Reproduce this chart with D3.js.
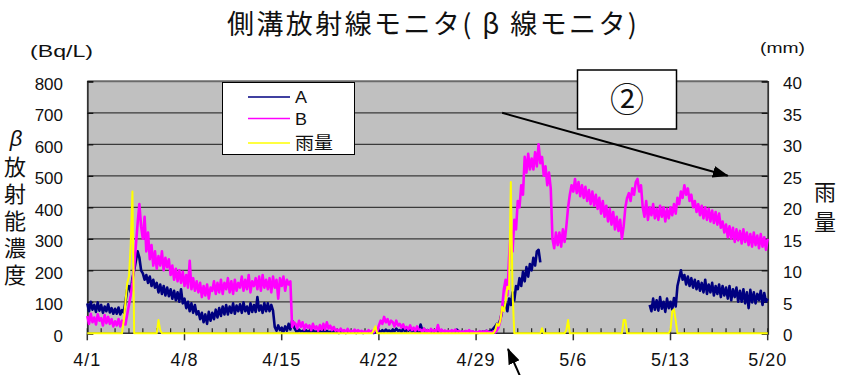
<!DOCTYPE html>
<html>
<head>
<meta charset="utf-8">
<script src="https://cdn.jsdelivr.net/npm/d3@7"></script>
<style>
  html, body { margin: 0; padding: 0; background: #fff; }
  svg { display: block; font-family: "Liberation Sans", Arial, "Noto Sans CJK JP", sans-serif; }
  .jp { font-family: "Noto Sans CJK JP", sans-serif; }
  .vertical { writing-mode: vertical-rl; text-orientation: upright; }
</style>
</head>
<body>
<svg id="chart" width="843" height="375"></svg>
<script>
// ---- data -------------------------------------------------------------
// one reading every 3 hours from 4/1 00:00 to 5/20 00:00 (8 per day)
const YEAR = 2011;
const STEP_HOURS = 3;

const seriesNames = ["A", "B", "雨量"];
const seriesColors = ["#000080", "#ff00ff", "#ffff00"];

const concTicks = [0, 100, 200, 300, 400, 500, 600, 700, 800];   // Bq/L
const rainTicks = [0, 5, 10, 15, 20, 25, 30, 35, 40];              // mm
const dateTicks = ["4/1", "4/8", "4/15", "4/22", "4/29", "5/6", "5/13", "5/20"];

// monitor A (Bq/L)
const seriesA = [
  95,70,100,75,90,68,98,72,        // 4/1
  90,65,85,70,92,66,80,62,         // 4/2
  78,62,82,60,74,66,100,140,       // 4/3
  150,130,175,200,230,260,240,200, // 4/4
  190,170,185,160,180,150,170,145, // 4/5
  160,130,155,125,150,120,145,118, // 4/6
  140,110,135,105,130,100,140,95,  // 4/7
  110,80,100,70,95,65,90,60,       // 4/8
  70,45,65,35,60,30,68,40,         // 4/9
  65,45,75,50,80,55,85,60,         // 4/10
  90,60,85,65,95,62,88,70,         // 4/11
  92,65,98,70,85,62,95,68,         // 4/12
  90,68,115,72,88,65,96,70,        // 4/13
  95,70,90,72,20,8,25,10,          // 4/14
  18,5,22,8,30,12,40,20,           // 4/15
  10,4,12,5,8,3,10,4,              // 4/16
  8,3,10,4,6,2,8,3,                // 4/17
  6,2,8,3,5,2,6,2,                 // 4/18
  4,1,5,2,4,1,5,2,                 // 4/19
  5,2,4,1,6,2,4,1,                 // 4/20
  5,2,6,2,4,1,6,3,                 // 4/21
  8,4,10,5,12,6,9,4,               // 4/22
  12,6,15,8,10,5,14,7,             // 4/23
  15,8,18,6,12,5,10,4,             // 4/24
  28,10,14,6,10,4,8,3,             // 4/25
  6,2,8,3,10,4,6,2,                // 4/26
  5,2,7,3,8,12,6,2,                // 4/27
  5,2,6,3,4,2,5,2,                 // 4/28
  4,1,5,2,6,3,8,4,                 // 4/29
  6,10,15,22,30,28,45,70,          // 4/30
  80,95,70,110,90,130,105,150,     // 5/1
  140,175,150,195,165,210,180,220, // 5/2
  200,240,215,260,265,225,null,null, // 5/3
  null,null,null,null,null,null,null,null, // 5/4
  null,null,null,null,null,null,null,null, // 5/5
  null,null,null,null,null,null,null,null, // 5/6
  null,null,null,null,null,null,null,null, // 5/7
  null,null,null,null,null,null,null,null, // 5/8
  null,null,null,null,null,null,null,null, // 5/9
  null,null,null,null,null,null,null,null, // 5/10
  null,null,null,null,90,70,110,75,        // 5/11
  105,72,115,78,100,68,110,80,     // 5/12
  100,75,112,85,150,175,200,170,   // 5/13
  185,155,180,150,175,145,170,140, // 5/14
  165,135,160,130,170,125,155,130, // 5/15
  160,120,150,125,155,115,150,120, // 5/16
  145,110,150,105,140,115,145,100, // 5/17
  135,100,140,95,130,80,138,98,    // 5/18
  130,95,125,105,135,90,128,100,   // 5/19
  110                              // 5/20
];

// monitor B (Bq/L)
const seriesB = [
  55,30,62,35,50,28,60,40,         // 4/1
  48,25,58,32,52,30,45,22,         // 4/2
  38,25,45,22,40,30,28,60,         // 4/3
  90,120,160,210,280,350,410,340,  // 4/4
  300,370,260,320,235,280,215,260, // 4/5
  205,245,215,260,200,240,210,235, // 4/6
  185,215,170,205,165,200,160,195, // 4/7
  150,185,145,230,140,175,135,165, // 4/8
  130,160,115,150,120,155,110,145, // 4/9
  135,165,125,160,130,170,125,160, // 4/10
  140,175,130,165,125,170,135,160, // 4/11
  145,180,135,170,140,185,130,165, // 4/12
  150,175,140,180,135,185,145,170, // 4/13
  140,175,130,180,145,170,110,175, // 4/14
  150,180,135,170,155,165,20,35,   // 4/15
  30,15,40,20,35,12,28,18,         // 4/16
  25,10,30,14,22,8,26,12,          // 4/17
  30,12,35,15,24,10,20,8,          // 4/18
  12,5,15,6,10,4,14,5,             // 4/19
  8,3,12,5,10,3,8,4,               // 4/20
  6,2,10,4,8,3,12,5,               // 4/21
  25,40,30,52,35,45,28,40,         // 4/22
  35,22,40,25,30,18,28,15,         // 4/23
  20,12,25,10,18,8,22,10,          // 4/24
  12,5,15,6,10,4,14,6,             // 4/25
  10,4,26,5,12,3,9,4,              // 4/26
  8,3,10,4,12,5,8,3,               // 4/27
  6,2,8,3,10,4,6,2,                // 4/28
  5,2,7,3,6,2,8,3,                 // 4/29
  4,2,6,3,10,20,40,80,             // 4/30
  140,170,120,240,330,260,360,330, // 5/1
  420,400,470,440,560,510,570,520, // 5/2
  555,520,575,530,600,540,560,500, // 5/3
  530,470,510,460,300,270,320,280, // 5/4
  320,275,330,290,340,400,440,470, // 5/5
  450,490,445,480,435,470,430,465, // 5/6
  420,455,410,450,405,440,395,430, // 5/7
  380,420,370,405,355,395,345,385, // 5/8
  330,370,325,360,300,340,400,430, // 5/9
  445,420,460,440,480,490,450,470, // 5/10
  400,370,420,360,400,375,410,365, // 5/11
  395,360,405,370,400,355,395,365, // 5/12
  400,375,410,380,430,410,450,430, // 5/13
  470,440,460,420,440,400,420,385, // 5/14
  410,375,405,365,400,360,395,355, // 5/15
  390,350,385,345,380,335,355,320, // 5/16
  345,305,340,300,335,290,330,295, // 5/17
  325,285,330,290,320,280,315,275, // 5/18
  320,280,310,270,315,275,305,265, // 5/19
  300                              // 5/20
];

// rainfall (mm)
const rainfall = [
  0,0,0,0,0,0,0,0,          // 4/1
  0,0,0,0,0,0,0,0,          // 4/2
  0,0,0,0,0,2,5,8,          // 4/3
  9,14,22.5,0,0,0,0,0,      // 4/4
  0,0,0,0,0,0,0,0,          // 4/5
  0,2.1,0.5,0,0,0,0,0,      // 4/6
  0,0,0,0,0,0,0,0,          // 4/7
  0,0,0,0,0,0,0,0,          // 4/8
  0,0,0,0,0,0,0,0,          // 4/9
  0,0,0,0,0,0,0,0,          // 4/10
  0,0,0,0,0,0,0,0,          // 4/11
  0,0,0,0,0,0,0,0,          // 4/12
  0,0,0,0,0,0,0,0,          // 4/13
  0,0,0,0,0,0,0,0,          // 4/14
  0,0,0,0,0,0,0,0,          // 4/15
  0,0,0,0,0,0,0,0,          // 4/16
  0,0,0,0,0,0,0,0,          // 4/17
  0,0,0,0,0,0,0,0,          // 4/18
  0,0,0,0,0,0,0,0,          // 4/19
  0,0,0,0,0,0,0,0,          // 4/20
  0,0,0,0,0,0.5,1.1,0,      // 4/21
  0,0,0,0,0,0,0,0,          // 4/22
  0,0,0,0,0,0,0,0,          // 4/23
  0,0,0,0,0,0,0,0,          // 4/24
  0,0,0,0,0,0,0,0,          // 4/25
  0,0,0,0,0,0,0,0,          // 4/26
  0,0,0,0,0,0,0,0,          // 4/27
  0,0,0,0,0,0,0,0,          // 4/28
  0,0,0,0,0,0,0,0,          // 4/29
  0,0,0,0.5,1.5,1.2,2,4.2,  // 4/30
  3.5,5,7.4,7,24,6.4,0,0,   // 5/1
  0,0,0,0,0,0,0,0,          // 5/2
  0,0,0,0,0,0,0.8,0,        // 5/3
  0,0,0,0,0,0,0,0,          // 5/4
  0,0,0,0,0.5,2.1,0,0,      // 5/5
  0,0,0,0,0,0,0,0,          // 5/6
  0,0,0,0,0,0,0,0,          // 5/7
  0,0,0,0,0,0,0,0,          // 5/8
  0,0,0,0,0,2.1,2.1,0,      // 5/9
  0,0,0,0,0,0,0,0,          // 5/10
  0,0,0,0,0,0,0,0,          // 5/11
  0,0,0,0,0,0,0,0,          // 5/12
  0.5,3.5,3.8,2,0,0,0,0,    // 5/13
  0,0,0,0,0,0,0,0,          // 5/14
  0,0,0,0,0,0,0,0,          // 5/15
  0,0,0,0,0,0,0,0,          // 5/16
  0,0,0,0,0,0,0,0,          // 5/17
  0,0,0,0,0,0,0,0,          // 5/18
  0,0,0,0,0,0,0,0,          // 5/19
  0                         // 5/20
];

// ---- layout -----------------------------------------------------------
const plot = { left: 87.3, right: 767.7, top: 81.3, bottom: 333.3 };

const parseMD = s => { const [m, d] = s.split("/").map(Number); return new Date(Date.UTC(YEAR, m - 1, d)); };
const tickDates = dateTicks.map(parseMD);
const start = tickDates[0];
const timeAt = i => d3.utcHour.offset(start, i * STEP_HOURS);

const x = d3.scaleUtc().domain([tickDates[0], tickDates[tickDates.length - 1]]).range([plot.left, plot.right]);
const y = d3.scaleLinear().domain([0, 800]).range([plot.bottom, plot.top]);
const yR = d3.scaleLinear().domain([0, 40]).range([plot.bottom, plot.top]);

const svg = d3.select("#chart");
svg.append("rect").attr("width", 843).attr("height", 375).attr("fill", "#fff");

// plot background
svg.append("rect")
  .attr("x", plot.left).attr("y", plot.top)
  .attr("width", plot.right - plot.left).attr("height", plot.bottom - plot.top)
  .attr("fill", "#c0c0c0");

// horizontal grid
svg.append("g").selectAll("line").data(concTicks.filter(v => v > 0)).join("line")
  .attr("x1", plot.left).attr("x2", plot.right)
  .attr("y1", d => y(d)).attr("y2", d => y(d))
  .attr("stroke", d => d === 800 ? "#6a6a6a" : "#3a3a3a")
  .attr("stroke-width", d => d === 800 ? 2 : 1.3);

// left axis (ticks point into the plot)
const leftAxis = svg.append("g")
  .attr("transform", `translate(${plot.left},0)`)
  .call(d3.axisRight(y).tickValues(concTicks).tickSize(6).tickFormat(""));
leftAxis.select(".domain").attr("stroke", "#333").attr("stroke-width", 1.8);
leftAxis.selectAll(".tick line").attr("stroke", "#111").attr("stroke-width", 1.3);
svg.append("g").selectAll("text").data(concTicks).join("text")
  .attr("x", 63).attr("y", d => y(d) + 8.5)
  .attr("text-anchor", "end").attr("font-size", 17).attr("fill", "#111")
  .text(d => d);

// right axis
const rightAxis = svg.append("g")
  .attr("transform", `translate(${plot.right},0)`)
  .call(d3.axisLeft(yR).tickValues(rainTicks).tickSize(6).tickFormat(""));
rightAxis.select(".domain").attr("stroke", "#333").attr("stroke-width", 1.8);
rightAxis.selectAll(".tick line").attr("stroke", "#111").attr("stroke-width", 1.3);
svg.append("g").selectAll("text").data(rainTicks).join("text")
  .attr("x", 783).attr("y", d => yR(d) + 8)
  .attr("text-anchor", "start").attr("font-size", 17).attr("fill", "#111")
  .text(d => d);

// bottom axis: daily minor ticks inside, weekly major ticks outside
svg.append("line")
  .attr("x1", plot.left).attr("x2", plot.right)
  .attr("y1", plot.bottom).attr("y2", plot.bottom)
  .attr("stroke", "#333").attr("stroke-width", 1.5);
const days = d3.utcDay.range(tickDates[0], d3.utcDay.offset(tickDates[tickDates.length - 1], 1));
svg.append("g").selectAll("line").data(days).join("line")
  .attr("x1", d => x(d)).attr("x2", d => x(d))
  .attr("y1", plot.bottom - 5).attr("y2", plot.bottom)
  .attr("stroke", "#222").attr("stroke-width", 1.2);
svg.append("g").selectAll("line").data(tickDates).join("line")
  .attr("x1", d => x(d)).attr("x2", d => x(d))
  .attr("y1", plot.bottom).attr("y2", plot.bottom + 7)
  .attr("stroke", "#333").attr("stroke-width", 1.5);
svg.append("g").selectAll("text").data(dateTicks).join("text")
  .attr("x", (d, i) => x(tickDates[i])).attr("y", 366)
  .attr("text-anchor", "middle").attr("font-size", 18).attr("fill", "#111")
  .attr("letter-spacing", 1)
  .text(d => d);

// ---- series -----------------------------------------------------------
const lineL = d3.line().defined(v => v != null).x((v, i) => x(timeAt(i))).y(v => y(v));
const lineR = d3.line().defined(v => v != null).x((v, i) => x(timeAt(i))).y(v => yR(v));

svg.append("path").datum(seriesA).attr("d", lineL)
  .attr("fill", "none").attr("stroke", seriesColors[0]).attr("stroke-width", 2.6).attr("stroke-linejoin", "round");
svg.append("path").datum(seriesB).attr("d", lineL)
  .attr("fill", "none").attr("stroke", seriesColors[1]).attr("stroke-width", 2.6).attr("stroke-linejoin", "round");
svg.append("path").datum(rainfall).attr("d", lineR)
  .attr("fill", "none").attr("stroke", seriesColors[2]).attr("stroke-width", 2).attr("stroke-linejoin", "round");

// ---- legend -----------------------------------------------------------
const legend = svg.append("g");
legend.append("rect").attr("x", 222.5).attr("y", 82.5).attr("width", 132).attr("height", 72)
  .attr("fill", "#fff").attr("stroke", "#000").attr("stroke-width", 1);
const legendRows = [97, 118.5, 143];
seriesNames.forEach((name, i) => {
  legend.append("line").attr("x1", 248).attr("x2", 290)
    .attr("y1", legendRows[i]).attr("y2", legendRows[i])
    .attr("stroke", seriesColors[i]).attr("stroke-width", 1.5);
  legend.append("text").attr("x", 295).attr("y", legendRows[i] + 6)
    .attr("class", i === 2 ? "jp" : null)
    .attr("font-size", i === 2 ? 17 : 16).attr("fill", "#111")
    .attr("textLength", i === 2 ? 38 : 12).attr("lengthAdjust", "spacingAndGlyphs")
    .text(name);
});

// ---- titles -----------------------------------------------------------
svg.append("text").attr("class", "jp")
  .attr("x", 227).attr("y", 34).attr("font-size", 27).attr("fill", "#111")
  .attr("textLength", 410).attr("lengthAdjust", "spacing")
  .text("側溝放射線モニタ( β 線モニタ)");

svg.append("text").attr("x", 30).attr("y", 57).attr("font-size", 17).attr("fill", "#111")
  .attr("textLength", 63).attr("lengthAdjust", "spacingAndGlyphs").text("(Bq/L)");
svg.append("text").attr("x", 760).attr("y", 53).attr("font-size", 14).attr("fill", "#111")
  .attr("textLength", 45).attr("lengthAdjust", "spacingAndGlyphs").text("(mm)");

// left axis title: β on top, the kanji set vertically below it
svg.append("text")
  .attr("x", 16).attr("y", 146)
  .attr("text-anchor", "middle").attr("font-size", 22).attr("font-style", "italic").attr("fill", "#111")
  .text("β");
svg.append("text").attr("class", "jp vertical")
  .attr("x", 15).attr("y", 156)
  .attr("font-size", 22).attr("letter-spacing", 5).attr("fill", "#111")
  .text("放射能濃度");

// right axis title
svg.append("text").attr("class", "jp vertical")
  .attr("x", 825).attr("y", 181)
  .attr("font-size", 22).attr("letter-spacing", 8).attr("fill", "#111")
  .text("雨量");

// ---- annotations ------------------------------------------------------
const defs = svg.append("defs");
defs.append("marker").attr("id", "head")
  .attr("markerUnits", "userSpaceOnUse")
  .attr("viewBox", "0 0 16 12").attr("refX", 15).attr("refY", 6)
  .attr("markerWidth", 16).attr("markerHeight", 12)
  .attr("orient", "auto")
  .append("path").attr("d", "M0,0 L16,6 L0,12 Z").attr("fill", "#000");

// trend arrow, from 700 Bq/L on 4/30 down to the 25 mm level on 5/17
svg.append("line")
  .attr("x1", x(timeAt(239))).attr("y1", y(700))
  .attr("x2", x(timeAt(369))).attr("y2", yR(25))
  .attr("stroke", "#000").attr("stroke-width", 2)
  .attr("marker-end", "url(#head)");

// rain event pointer below the axis
svg.append("line")
  .attr("x1", 520).attr("y1", 376)
  .attr("x2", 508).attr("y2", 349)
  .attr("stroke", "#000").attr("stroke-width", 2)
  .attr("marker-end", "url(#head)");

svg.append("rect").attr("x", 577.5).attr("y", 70).attr("width", 99).attr("height", 59)
  .attr("fill", "#fff").attr("stroke", "#000").attr("stroke-width", 1.5);
svg.append("text").attr("class", "jp")
  .attr("x", 627).attr("y", 112).attr("text-anchor", "middle")
  .attr("font-size", 34).attr("fill", "#111")
  .text("②");
</script>
</body>
</html>
